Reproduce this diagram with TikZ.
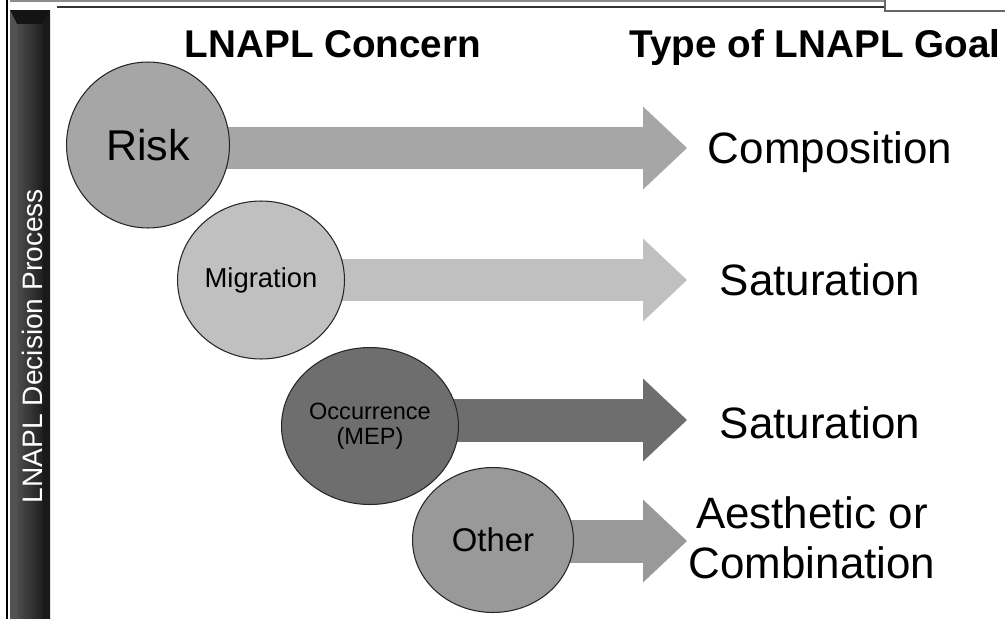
\documentclass[tikz,border=0pt]{standalone}
\usepackage{fontspec}
\setmainfont{Liberation Sans}
\usetikzlibrary{shapes.geometric,arrows.meta,backgrounds}

\definecolor{riskgray}{RGB}{166,166,166}
\definecolor{miggray}{RGB}{192,192,192}
\definecolor{occgray}{RGB}{110,110,110}
\definecolor{othgray}{RGB}{153,153,153}

\begin{document}
\begin{tikzpicture}[x=0.02cm, y=-0.02cm]
	\tikzset{con/.style={ellipse, draw=black!85, line width=0.6pt, inner sep=0pt},
		arr/.style={line width=0.86cm, -{Triangle[length=0.88cm, width=1.66cm, line width=0pt]}},
		goal/.style={anchor=base, inner sep=0pt, font=\fontsize{25}{28.5}\selectfont},
		hd/.style={anchor=base, inner sep=0pt, font=\bfseries\fontsize{22}{26}\selectfont}};

	\useasboundingbox (0,0) rectangle (1005,619);

	% frame
	\draw[black, line width=0.8pt] (7,0) -- (7,619);
	\draw[black!45, line width=0.6pt] (10,1) -- (885,1);
	\draw[black!80, line width=1.3pt] (57,7) -- (885,7);
	\draw[black!60, line width=0.6pt] (885,0) -- (885,11) -- (1005,11);

	% side bar
	\fill[black!82] (10,10) rectangle (50,619);
	\fill[black!92] (10,10) -- (50,10) -- (43,24) -- (17,24) -- cycle;
	\fill[black!68] (10,10) -- (17,24) -- (17,619) -- (10,619) -- cycle;
	\fill[black!90] (50,10) -- (43,24) -- (43,619) -- (50,619) -- cycle;
	\shade[left color=black!70, right color=black!88] (17,24) rectangle (43,619);
	\node[white, rotate=90, inner sep=0pt, font=\fontsize{16}{19}\selectfont] (proc) at (32,346) {LNAPL Decision Process};

	% headers
	\node[hd] (hconcern) at (333,57) {LNAPL Concern};
	\node[hd] (hgoal) at (815,57) {Type of LNAPL Goal};

	% concerns
	\node[con, fill=riskgray, minimum width=3.26cm, minimum height=3.32cm, font=\fontsize{24.5}{28}\selectfont] (risk) at (148,145) {Risk};
	\node[con, fill=miggray, minimum width=3.34cm, minimum height=3.16cm, font=\fontsize{15.6}{18}\selectfont] (mig) at (261,280) {Migration};
	\node[con, fill=occgray, minimum width=3.54cm, minimum height=3.14cm, align=center, font=\fontsize{13.4}{14.3}\selectfont] (occ) at (370,426) {Occurrence\\(MEP)};
	\node[con, fill=othgray, minimum width=3.22cm, minimum height=2.9cm, font=\fontsize{18.7}{22}\selectfont] (oth) at (493,540) {Other};

	% goals
	\node[goal] (g1) at (830,163) {Composition};
	\node[goal] (g2) at (820,295) {Saturation};
	\node[goal] (g3) at (820,438) {Saturation};
	\node[goal, anchor=center, align=center] (g4) at (812,538) {Aesthetic or\\Combination};

	\coordinate (t1) at (687,148);
	\coordinate (t2) at (687,280);
	\coordinate (t3) at (687,420);
	\coordinate (t4) at (687,541);

	\begin{scope}[on background layer]
		\draw[arr, riskgray] (risk.center |- t1) -- (t1);
		\draw[arr, miggray] (mig.center |- t2) -- (t2);
		\draw[arr, occgray] (occ.center |- t3) -- (t3);
		\draw[arr, othgray] (oth.center |- t4) -- (t4);
	\end{scope}

\end{tikzpicture}
\end{document}
